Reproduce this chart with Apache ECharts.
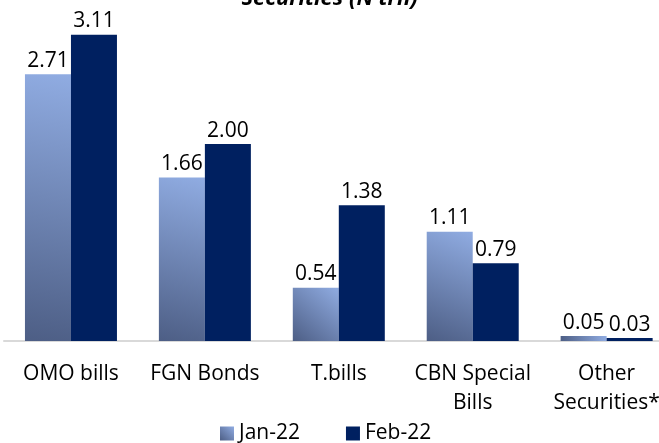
<!DOCTYPE html>
<html>
<head>
<meta charset="utf-8">
<script src="https://cdn.jsdelivr.net/npm/echarts@6/dist/echarts.min.js"></script>
<style>html,body{margin:0;padding:0;background:#fff;}#c{width:659px;height:443px;}</style>
</head>
<body>
<div id="c"></div>
<script>
const categories = ["OMO bills", "FGN Bonds", "T.bills", "CBN Special\nBills", "Other\nSecurities*"];
const jan22 = [2.71, 1.66, 0.54, 1.11, 0.05];
const feb22 = [3.11, 2.00, 1.38, 0.79, 0.03];
const seriesNames = ["Jan-22", "Feb-22"];
const titleText = "Securities (N'trn)";

const FONT = "Open Sans";
const chart = echarts.init(document.getElementById('c'), null, {renderer: 'canvas'});
const janColor = new echarts.graphic.LinearGradient(0, 1, 1, 0, [
  {offset: 0, color: '#4D5E85'},
  {offset: 1, color: '#90ACE2'}
]);
const labelCfg = {
  show: true, position: 'top', distance: 3,
  fontFamily: FONT, fontSize: 21, color: '#000',
  formatter: p => p.value.toFixed(2)
};
chart.setOption({
  animation: false,
  backgroundColor: '#fff',
  title: {
    text: titleText, left: 'center', top: -17,
    textStyle: {fontFamily: FONT, fontSize: 22, fontWeight: 'bold', fontStyle: 'italic', color: '#000'}
  },
  grid: {left: 4, top: 6.3, width: 669.6, bottom: 102, containLabel: false, outerBoundsMode: 'none'},
  legend: {
    left: 215, top: 418, itemWidth: 14, itemHeight: 14, itemGap: 46, icon: 'rect',
    textStyle: {fontFamily: FONT, fontSize: 21, color: '#000'},
    data: seriesNames
  },
  xAxis: {
    type: 'category', data: categories,
    axisLine: {lineStyle: {color: '#D9D9D9', width: 2}},
    axisTick: {show: false},
    axisLabel: {fontFamily: FONT, fontSize: 21, color: '#000', margin: 19, lineHeight: 29, interval: 0}
  },
  yAxis: {type: 'value', min: 0, max: 3.4, show: false, splitLine: {show: false}},
  series: [
    {name: seriesNames[0], type: 'bar', data: jan22, barWidth: 46, barGap: '0%',
     itemStyle: {color: janColor}, label: labelCfg},
    {name: seriesNames[1], type: 'bar', data: feb22, barWidth: 46,
     itemStyle: {color: '#002060'}, label: labelCfg}
  ]
});
</script>
</body>
</html>
